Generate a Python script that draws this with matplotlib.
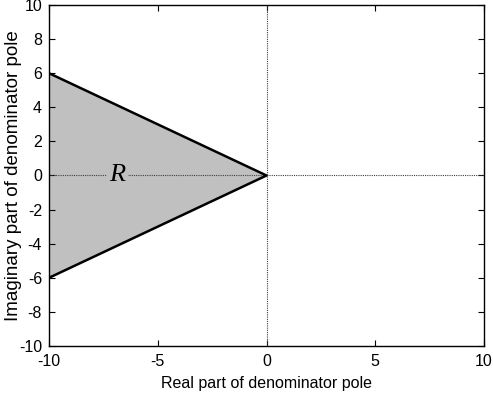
import numpy as np
import matplotlib.pyplot as plt

plt.rcParams['font.family'] = ['Liberation Sans', 'DejaVu Sans']
plt.rcParams['axes.unicode_minus'] = False

# region R boundary (real, imaginary)
region_re = [-10, 0, -10]
region_im = [6, 0, -6]

xticks = [-10, -5, 0, 5, 10]
yticks = [-10, -8, -6, -4, -2, 0, 2, 4, 6, 8, 10]

fig = plt.figure(figsize=(4.93, 3.96), dpi=100)
ax = fig.add_axes([49 / 493, 1 - 346 / 396, 435 / 493, 341 / 396])

ax.fill(region_re, region_im, facecolor='#c0c0c0', edgecolor='none', zorder=1)
ax.plot(region_re, region_im, color='black', lw=1.8, zorder=3)

ax.axhline(0, color='0.25', lw=0.8, ls=(0, (1, 1)), zorder=2)
ax.axvline(0, color='0.25', lw=0.8, ls=(0, (1, 1)), zorder=2)

ax.text(-6.85, 0, 'R', fontsize=19, family='Liberation Serif', style='italic',
        ha='center', va='center',
        bbox=dict(facecolor='#c0c0c0', edgecolor='none', pad=2), zorder=4)

ax.set_xlim(-10, 10)
ax.set_ylim(-10, 10)
ax.set_xticks(xticks)
ax.set_yticks(yticks)
ax.tick_params(direction='in', top=True, right=True, labelsize=11.5, length=4, width=0.8)
ax.tick_params(axis='x', pad=6)
ax.tick_params(axis='y', pad=5)
ax.set_xlabel('Real part of denominator pole', fontsize=11.5, labelpad=5)
ax.set_ylabel('Imaginary part of denominator pole', fontsize=13.5)
ax.yaxis.set_label_coords(-0.062, 0.5)
for s in ax.spines.values():
    s.set_linewidth(1.0)

fig.savefig('out.png', dpi=100)
